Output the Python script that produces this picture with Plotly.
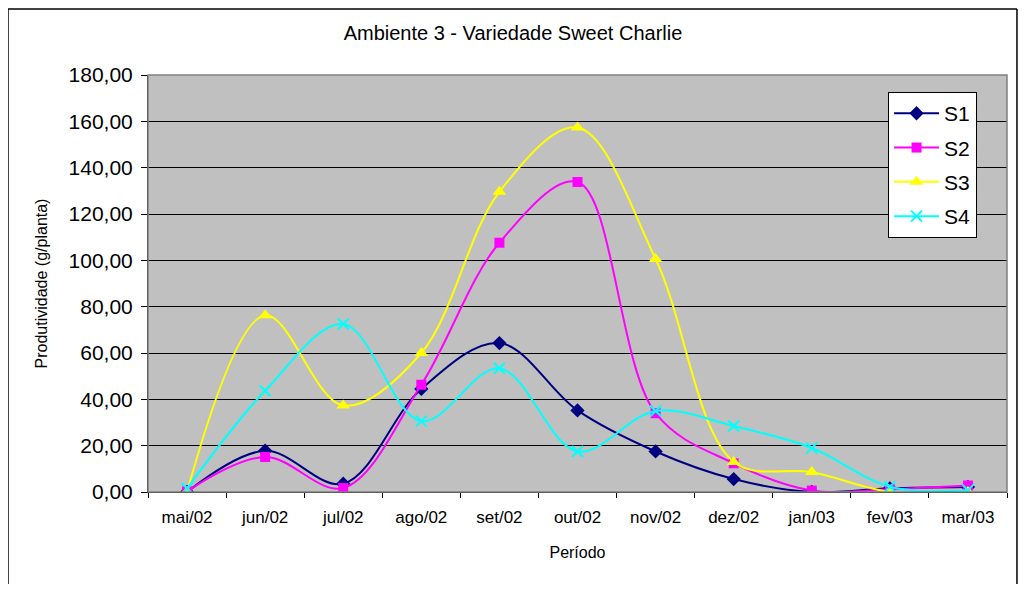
import plotly.graph_objects as go

# período (categorias do eixo x)
months = ["mai/02", "jun/02", "jul/02", "ago/02", "set/02", "out/02",
          "nov/02", "dez/02", "jan/03", "fev/03", "mar/03"]

# produtividade (g/planta) por sistema
s1 = [0.0, 17.8, 3.6, 44.5, 64.3, 35.2, 17.5, 5.6, 0.0, 1.6, 2.2]
s2 = [0.3, 15.1, 1.7, 46.3, 107.6, 133.8, 34.0, 12.4, 0.6, 1.2, 2.8]
s3 = [0.0, 76.3, 37.3, 60.0, 129.6, 157.3, 100.6, 13.0, 8.6, 0.0, 0.0]
s4 = [1.5, 43.7, 72.5, 30.6, 53.4, 17.5, 35.0, 28.5, 19.0, 2.3, 0.8]

y_ticks = list(range(0, 181, 20))

FONT = "Liberation Sans, Arial, sans-serif"

series = [
    ("S1", s1, "#000080", dict(symbol="diamond", size=11)),
    ("S2", s2, "#FF00FF", dict(symbol="square", size=10)),
    ("S3", s3, "#FFFF00", dict(symbol="triangle-up", size=12)),
    ("S4", s4, "#00FFFF", dict(symbol="x-thin-open", size=11, line=dict(width=2, color="#00FFFF"))),
]

fig = go.Figure()
for name, vals, color, marker in series:
    fig.add_trace(go.Scatter(
        x=months, y=vals, name=name, legendgroup=name,
        mode="lines+markers",
        line=dict(color=color, width=2, shape="spline", smoothing=1),
        marker=dict(color=color, **marker),
    ))

# moldura externa do gráfico (esquerda, topo, direita; a base fica fora da imagem)
frame = dict(color="black", width=1.5)
fx0, fx1, fy0, fy1 = -0.163, 1.0116, -0.3, 1.158
for x0, y0, x1, y1 in [(fx0, fy0, fx0, fy1), (fx0, fy1, fx1, fy1), (fx1, fy1, fx1, fy0)]:
    fig.add_shape(type="line", xref="paper", yref="paper",
                  x0=x0, y0=y0, x1=x1, y1=y1, line=frame, layer="below")

# a página tem margem de 8px; figura menor para não gerar barras de rolagem
fig.update_layout(
    width=1010, height=576,
    margin=dict(l=140, r=11, t=67, b=92),
    paper_bgcolor="white",
    plot_bgcolor="#C0C0C0",
    separators=",.",
    font=dict(family=FONT, color="black"),
    title=dict(text="Ambiente 3 - Variedade Sweet Charlie", x=0.5, xanchor="center",
               y=0.9566, yanchor="middle", font=dict(size=20)),
    showlegend=True,
    legend=dict(x=0.8615, y=0.959, xanchor="left", yanchor="top",
                bgcolor="white", bordercolor="black", borderwidth=1,
                font=dict(size=21), tracegroupgap=4, itemwidth=45),
    xaxis=dict(
        type="category", range=[-0.5, 10.5],
        showgrid=False, showline=True, linecolor="black", linewidth=1,
        ticks="outside", tickson="boundaries", ticklen=5, tickcolor="black",
        tickfont=dict(size=17), ticklabelstandoff=10,
        title=dict(text="Período", font=dict(size=16), standoff=20),
    ),
    yaxis=dict(
        range=[0, 180], tickvals=y_ticks, tickformat=".2f",
        showgrid=True, gridcolor="black", gridwidth=1,
        showline=True, linecolor="black", linewidth=1,
        ticks="outside", ticklen=6, tickcolor="black",
        tickfont=dict(size=21), ticklabelstandoff=4, zeroline=False,
        title=dict(text="Produtividade (g/planta)", font=dict(size=16), standoff=16),
    ),
)

# borda cinza da área de plotagem
fig.add_shape(type="rect", xref="paper", yref="paper", x0=0, x1=1, y0=0, y1=1,
              line=dict(color="#808080", width=1.5))

fig.write_html("out.html")
